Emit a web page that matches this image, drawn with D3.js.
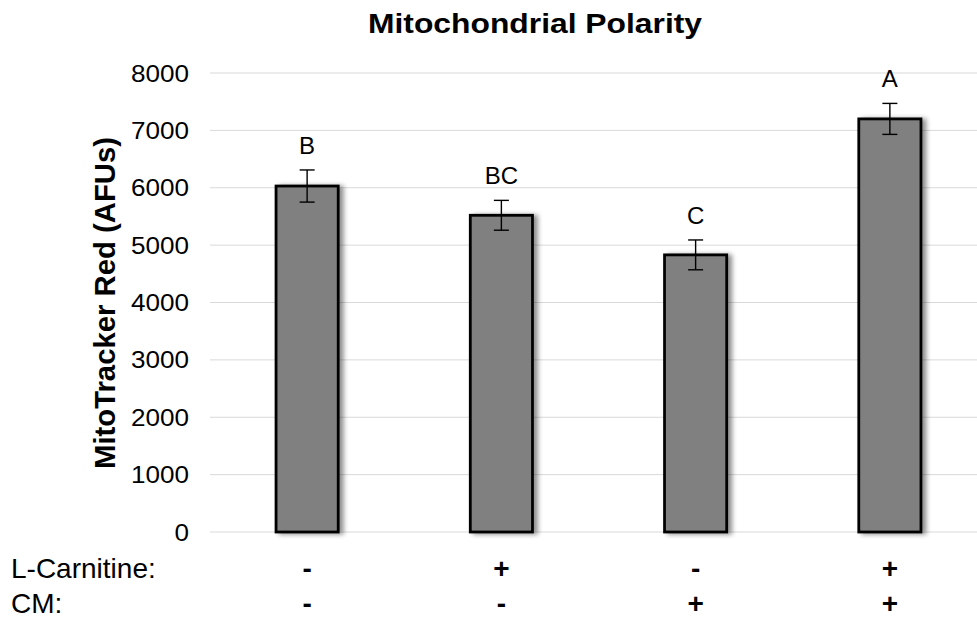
<!DOCTYPE html>
<html>
<head>
<meta charset="utf-8">
<script src="https://cdn.jsdelivr.net/npm/d3@7"></script>
<style>
  body { margin: 0; background: #fff; }
  text { font-family: "Liberation Sans", Arial, sans-serif; fill: #000; }
</style>
</head>
<body>
<div id="chart"></div>
<script>
const groups = ['g1', 'g2', 'g3', 'g4'];
const values = [6030, 5520, 4830, 7200];
const errors = [280, 260, 260, 270];
const letters = ['B', 'BC', 'C', 'A'];
const carnitine = ['-', '+', '-', '+'];
const cm = ['-', '-', '+', '+'];
const yTicks = [0, 1000, 2000, 3000, 4000, 5000, 6000, 7000, 8000];

const width = 977;
const height = 626;
const plotLeft = 210, plotRight = 987, plotTop = 73, plotBottom = 532;

const svg = d3.select('#chart')
  .append('svg')
  .attr('width', width)
  .attr('height', height);

const defs = svg.append('defs');
const shadow = defs.append('filter')
  .attr('id', 'shadow')
  .attr('x', '-20%').attr('y', '-20%')
  .attr('width', '160%').attr('height', '140%');
shadow.append('feGaussianBlur').attr('in', 'SourceAlpha').attr('stdDeviation', 2.5);
shadow.append('feOffset').attr('dx', 4).attr('dy', 1).attr('result', 'off');
shadow.append('feComponentTransfer').append('feFuncA').attr('type', 'linear').attr('slope', 0.45);
const merge = shadow.append('feMerge');
merge.append('feMergeNode');
merge.append('feMergeNode').attr('in', 'SourceGraphic');

const x = d3.scaleBand()
  .domain(groups)
  .range([plotLeft, plotRight])
  .paddingInner(0.68)
  .paddingOuter(0.34);

const y = d3.scaleLinear()
  .domain([0, 8000])
  .range([plotBottom, plotTop]);

// gridlines
svg.append('g')
  .selectAll('line')
  .data(yTicks)
  .enter()
  .append('line')
  .attr('x1', plotLeft)
  .attr('x2', width)
  .attr('y1', d => y(d))
  .attr('y2', d => y(d))
  .attr('stroke', '#d9d9d9')
  .attr('stroke-width', 1);

// y axis labels
const yAxis = d3.axisLeft(y).tickValues(yTicks).tickSize(0).tickPadding(0).tickFormat(d3.format('d'));
svg.append('g')
  .attr('transform', 'translate(189,0)')
  .call(yAxis)
  .call(g => g.select('.domain').remove())
  .call(g => g.selectAll('text')
    .attr('font-size', 23)
    .attr('dy', '0.35em')
    .attr('textLength', d => String(d).length * 14.5)
    .attr('lengthAdjust', 'spacingAndGlyphs')
    .attr('font-family', '"Liberation Sans", Arial, sans-serif')
    .attr('fill', '#000'));

// bars
svg.append('g')
  .selectAll('rect')
  .data(values)
  .enter()
  .append('rect')
  .attr('x', (d, i) => x(groups[i]))
  .attr('y', d => y(d))
  .attr('width', x.bandwidth())
  .attr('height', d => plotBottom - y(d))
  .attr('fill', '#808080')
  .attr('stroke', '#000')
  .attr('stroke-width', 2.8)
  .attr('filter', 'url(#shadow)');

// error bars
const err = svg.append('g').attr('stroke', '#000').attr('stroke-width', 1.4);
values.forEach((v, i) => {
  const cx = x(groups[i]) + x.bandwidth() / 2;
  err.append('line')
    .attr('x1', cx).attr('x2', cx)
    .attr('y1', y(v + errors[i])).attr('y2', y(v - errors[i]));
  err.append('line')
    .attr('x1', cx - 7.5).attr('x2', cx + 7.5)
    .attr('y1', y(v + errors[i])).attr('y2', y(v + errors[i]));
  err.append('line')
    .attr('x1', cx - 7.5).attr('x2', cx + 7.5)
    .attr('y1', y(v - errors[i])).attr('y2', y(v - errors[i]));
});

// significance letters
svg.append('g')
  .selectAll('text')
  .data(letters)
  .enter()
  .append('text')
  .attr('x', (d, i) => x(groups[i]) + x.bandwidth() / 2)
  .attr('y', (d, i) => y(values[i] + errors[i]) - 16)
  .attr('text-anchor', 'middle')
  .attr('font-size', 24)
  .text(d => d);

// title
svg.append('text')
  .attr('x', 535)
  .attr('y', 33)
  .attr('text-anchor', 'middle')
  .attr('font-size', 28)
  .attr('font-weight', 'bold')
  .attr('textLength', 334)
  .attr('lengthAdjust', 'spacingAndGlyphs')
  .text('Mitochondrial Polarity');

// y label
svg.append('text')
  .attr('transform', 'translate(115,303) rotate(-90)')
  .attr('text-anchor', 'middle')
  .attr('font-size', 29)
  .attr('font-weight', 'bold')
  .attr('textLength', 332)
  .attr('lengthAdjust', 'spacingAndGlyphs')
  .text('MitoTracker Red (AFUs)');

// treatment rows
const rows = [['L-Carnitine:', carnitine, 578], ['CM:', cm, 613]];
rows.forEach(([label, signs, yy]) => {
  svg.append('text')
    .attr('x', 11)
    .attr('y', yy)
    .attr('font-size', 28)
    .text(label);
  svg.append('g')
    .selectAll('text')
    .data(signs)
    .enter()
    .append('text')
    .attr('x', (d, i) => x(groups[i]) + x.bandwidth() / 2)
    .attr('y', yy)
    .attr('text-anchor', 'middle')
    .attr('font-size', 28)
    .attr('font-weight', 'bold')
    .text(d => d);
});
</script>
</body>
</html>
